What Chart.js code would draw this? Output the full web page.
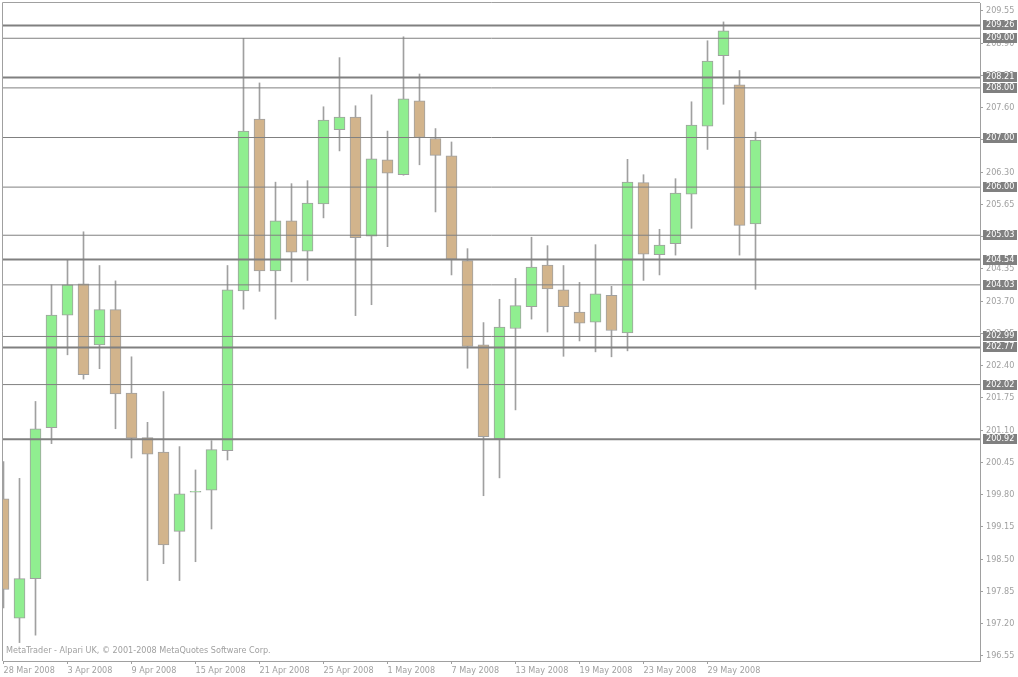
<!DOCTYPE html>
<html>
<head>
<meta charset="utf-8">
<script src="https://cdn.jsdelivr.net/npm/chart.js@4.4.0/dist/chart.umd.min.js"></script>
<style>
  html, body { margin: 0; padding: 0; background: #fff; }
  #grafico { display: block; }
</style>
</head>
<body>
<canvas id="grafico" width="1018" height="677"></canvas>
<script>
// etiquetas del eje X (una cada 4 velas)
const fechas = ['28 Mar 2008', '3 Apr 2008', '9 Apr 2008', '15 Apr 2008', '21 Apr 2008', '25 Apr 2008',
    '1 May 2008', '7 May 2008', '13 May 2008', '19 May 2008', '23 May 2008', '29 May 2008'];

// velas diarias
const aperturas = [199.72, 197.31, 198.11, 201.15, 203.42, 204.05, 202.82, 203.53, 201.85, 200.95, 200.66, 199.06,
    199.85, 199.89, 200.69, 203.91, 207.37, 204.31, 205.32, 204.71, 205.66, 207.16, 207.41, 205.01,
    206.55, 206.25, 207.74, 206.98, 206.63, 204.52, 202.82, 200.93, 203.15, 203.59, 204.43, 203.93,
    203.48, 203.28, 203.82, 203.06, 206.09, 204.64, 204.86, 205.86, 207.23, 208.65, 208.06, 205.26];
const maximos = [200.47, 200.13, 201.68, 204.03, 204.53, 205.10, 204.42, 204.11, 202.58, 201.26, 201.88, 200.77,
    200.30, 200.89, 204.42, 209.00, 208.10, 206.10, 206.07, 206.13, 207.62, 208.61, 207.64, 207.86,
    207.13, 209.03, 208.28, 207.18, 206.91, 204.76, 203.27, 203.74, 204.16, 204.99, 204.82, 204.42,
    204.08, 204.84, 204.00, 206.56, 206.25, 205.15, 206.17, 207.72, 208.95, 209.33, 208.35, 207.11];
const minimos = [197.52, 196.82, 196.97, 200.83, 202.62, 202.13, 202.34, 201.13, 200.54, 198.07, 198.41, 198.07,
    198.45, 199.11, 200.50, 203.54, 203.90, 203.34, 204.09, 204.12, 205.38, 206.73, 203.41, 203.63,
    204.80, 206.24, 206.45, 205.50, 204.23, 202.35, 199.78, 200.14, 201.51, 203.34, 203.08, 202.59,
    202.90, 202.68, 202.58, 202.70, 204.12, 204.23, 204.63, 205.17, 206.76, 207.67, 204.63, 203.94];
const cierres = [197.89, 198.11, 201.13, 203.42, 204.03, 202.22, 203.53, 201.83, 200.94, 200.62, 198.79, 199.82,
    199.87, 200.71, 203.93, 207.13, 204.31, 205.32, 204.69, 205.68, 207.35, 207.41, 204.98, 206.57,
    206.28, 207.78, 207.00, 206.64, 204.55, 202.79, 200.97, 203.18, 203.61, 204.39, 203.95, 203.59,
    203.26, 203.85, 203.11, 206.10, 204.65, 204.83, 205.88, 207.25, 208.54, 209.15, 205.23, 206.95];

// niveles horizontales
const nivelesGruesos = [209.26, 208.21, 204.54, 202.77, 200.92];
const nivelesFinos = [209.00, 208.00, 207.00, 206.00, 205.03, 204.03, 202.99, 202.02];

// escala de precios
const precioMin = 196.449;
const precioMax = 209.711;
const marcasY = [196.55, 197.20, 197.85, 198.50, 199.15, 199.80, 200.45, 201.10, 201.75, 202.40, 203.05,
    203.70, 204.35, 205.00, 205.65, 206.30, 206.95, 207.60, 208.25, 208.90, 209.55];

const fuente = "Tahoma, 'DejaVu Sans Condensed', 'Liberation Sans', sans-serif";
const xMin = -0.03125;
const xMax = xMin + 977 / 16;

const colores = aperturas.map((a, i) => cierres[i] >= a ? '#90ee90' : '#d2b48c');

const datasets = [];

nivelesGruesos.concat(nivelesFinos).forEach(nivel => {
    datasets.push({
        type: 'line',
        data: [{ x: xMin, y: nivel }, { x: xMax, y: nivel }],
        borderColor: '#808080',
        borderWidth: nivelesGruesos.includes(nivel) ? 2 : 1,
        pointRadius: 0,
        order: 0
    });
});

datasets.push({
    type: 'bar',
    data: aperturas.map((a, i) => ({ x: i, y: [a, cierres[i]] })),
    backgroundColor: colores,
    borderColor: '#a0a0a0',
    borderWidth: 1,
    borderSkipped: false,
    barThickness: 11,
    grouped: false,
    clip: 0,
    order: 1
});

datasets.push({
    type: 'bar',
    data: minimos.map((m, i) => ({ x: i, y: [m, maximos[i]] })),
    backgroundColor: '#a0a0a0',
    borderWidth: 0,
    barThickness: 1,
    grouped: false,
    clip: 0,
    order: 2
});

const extras = {
    id: 'extras',
    afterDraw(chart) {
        const { ctx, chartArea: a, scales: { y } } = chart;
        ctx.save();
        // marco izquierdo y superior
        ctx.strokeStyle = '#a0a0a0';
        ctx.lineWidth = 1;
        ctx.beginPath();
        ctx.moveTo(a.left - 0.5, a.bottom);
        ctx.lineTo(a.left - 0.5, a.top - 0.5);
        ctx.lineTo(a.right, a.top - 0.5);
        ctx.stroke();

        // marca de agua
        ctx.font = '9px ' + fuente;
        ctx.fillStyle = '#a0a0a0';
        ctx.textBaseline = 'middle';
        ctx.textAlign = 'left';
        ctx.fillText('MetaTrader - Alpari UK, \u00a9 2001-2008 MetaQuotes Software Corp.', a.left + 3, a.bottom - 10);

        // etiquetas de niveles
        nivelesGruesos.concat(nivelesFinos).forEach(nivel => {
            const yy = Math.round(y.getPixelForValue(nivel));
            ctx.fillStyle = '#808080';
            ctx.fillRect(a.right + 3, yy - 5, 34, 10);
            ctx.fillStyle = '#ffffff';
            ctx.fillText(nivel.toFixed(2), a.right + 6, yy);
        });
        ctx.restore();
    }
};

new Chart(document.getElementById('grafico'), {
    type: 'bar',
    data: { datasets },
    options: {
        responsive: false,
        animation: false,
        layout: { padding: { left: 3, top: 3, right: 0, bottom: 0 } },
        plugins: { legend: { display: false }, tooltip: { enabled: false } },
        scales: {
            x: {
                type: 'linear',
                min: xMin,
                max: xMax,
                offset: false,
                afterBuildTicks: escala => {
                    escala.ticks = fechas.map((_, i) => ({ value: i * 4 }));
                },
                afterFit: escala => {
                    escala.height = 16;
                    escala.paddingLeft = 0;
                    escala.paddingRight = 0;
                },
                ticks: {
                    autoSkip: false,
                    maxRotation: 0,
                    align: 'start',
                    padding: 1,
                    color: '#a0a0a0',
                    font: { family: fuente, size: 9 },
                    callback: (v, i) => fechas[i]
                },
                grid: { drawOnChartArea: false, tickLength: 3, color: '#a0a0a0', offset: false },
                border: { color: '#a0a0a0' }
            },
            y: {
                position: 'right',
                min: precioMin,
                max: precioMax,
                beginAtZero: false,
                afterBuildTicks: escala => {
                    escala.ticks = marcasY.map(v => ({ value: v }));
                },
                afterFit: escala => {
                    escala.width = 38;
                    escala.paddingTop = 0;
                    escala.paddingBottom = 0;
                },
                ticks: {
                    autoSkip: false,
                    padding: 3,
                    color: '#a0a0a0',
                    font: { family: fuente, size: 9 },
                    callback: v => v.toFixed(2)
                },
                grid: { drawOnChartArea: false, tickLength: 3, color: '#a0a0a0' },
                border: { color: '#a0a0a0' }
            }
        }
    },
    plugins: [extras]
});
</script>
</body>
</html>
